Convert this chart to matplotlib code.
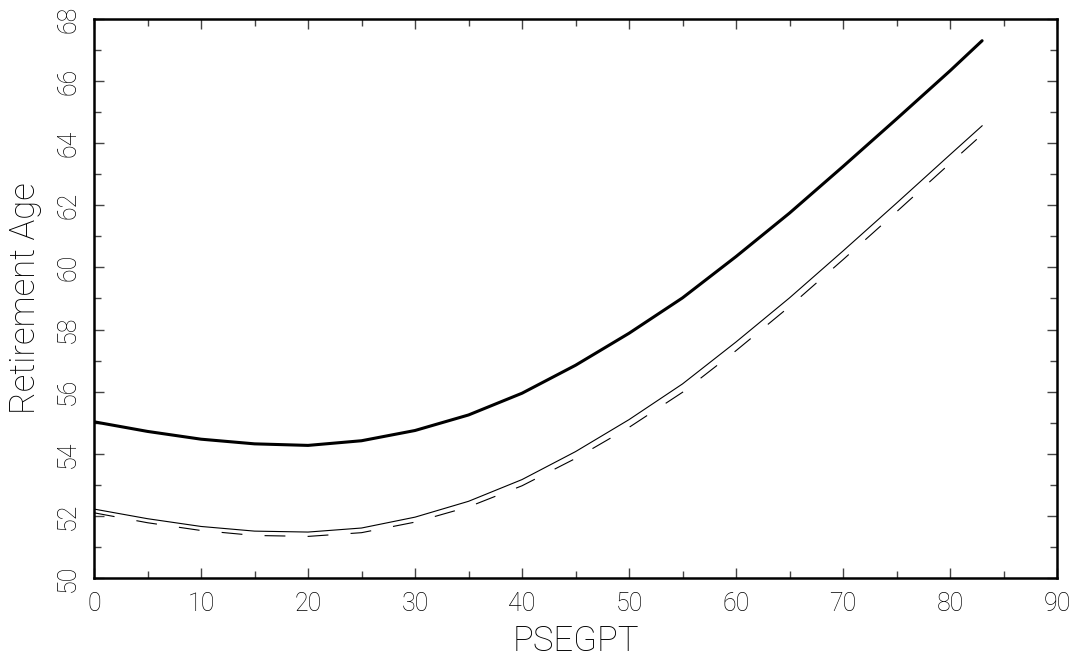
import matplotlib
matplotlib.use("Agg")
import matplotlib.pyplot as plt
from matplotlib.ticker import MultipleLocator

# valores
psegpt = [0, 5, 10, 15, 20, 25, 30, 35, 40, 45, 50, 55, 60, 65, 70, 75, 80, 83]
edad_gruesa = [55.03, 54.72, 54.47, 54.32, 54.27, 54.42, 54.75, 55.25, 55.95,
               56.85, 57.88, 59.02, 60.35, 61.75, 63.25, 64.78, 66.33, 67.30]
edad_fina = [52.22, 51.91, 51.66, 51.51, 51.48, 51.61, 51.96, 52.47, 53.17,
             54.07, 55.10, 56.25, 57.60, 59.02, 60.53, 62.07, 63.63, 64.56]
edad_guiones = [52.10, 51.78, 51.53, 51.37, 51.34, 51.46, 51.80, 52.29, 52.97,
                53.85, 54.85, 55.98, 57.32, 58.74, 60.25, 61.79, 63.35, 64.28]

plt.rcParams['font.family'] = ['Roboto', 'DejaVu Sans']
plt.rcParams['lines.scale_dashes'] = False

fig = plt.figure(figsize=(10.81, 6.68), dpi=100)
ax = fig.add_axes([0.087, 0.1347, 0.8908, 0.8369])

ax.plot(psegpt, edad_gruesa, color='black', lw=2.2, solid_capstyle='round',
        solid_joinstyle='round')
ax.plot(psegpt, edad_fina, color='black', lw=0.8)
ax.plot(psegpt, edad_guiones, color='black', lw=0.8, dashes=(15, 16))

ax.set_xlim(0, 90)
ax.set_ylim(50, 68)
ax.xaxis.set_major_locator(MultipleLocator(10))
ax.xaxis.set_minor_locator(MultipleLocator(5))
ax.yaxis.set_major_locator(MultipleLocator(2))
ax.yaxis.set_minor_locator(MultipleLocator(1))

ax.tick_params(which='both', direction='in', top=True, right=True,
               color='#444444', width=1.0)
ax.tick_params(which='major', length=7, labelsize=18, pad=10)
ax.tick_params(which='minor', length=5)
for etiqueta in ax.get_yticklabels():
    etiqueta.set_rotation(90)
    etiqueta.set_verticalalignment('center')
for etiqueta in ax.get_xticklabels() + ax.get_yticklabels():
    etiqueta.set_fontweight('light')

for lado in ax.spines.values():
    lado.set_linewidth(1.8)

ax.set_xlabel('PSEGPT', fontsize=25, fontweight='light', labelpad=6)
ax.set_ylabel('Retirement Age', fontsize=25, fontweight='light', labelpad=10)

fig.savefig('out.png', dpi=100)
